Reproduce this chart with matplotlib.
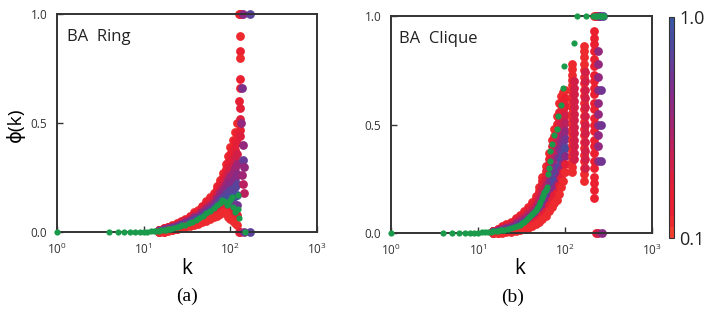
import numpy as np
import matplotlib
matplotlib.use("Agg")
import matplotlib.pyplot as plt
from matplotlib.colors import LinearSegmentedColormap, Normalize
from matplotlib.cm import ScalarMappable
from matplotlib.ticker import FixedLocator, NullLocator, LogFormatterSciNotation

# ---------------- panel (a): BA Ring ----------------
k_a = [15, 17, 19, 21, 24, 27, 30, 34, 38, 42, 47, 52, 58, 64, 70, 76, 82, 88, 94, 100, 106, 112, 118]
ring_hi = [0.01, 0.02, 0.025, 0.03, 0.04, 0.05, 0.06, 0.075, 0.09, 0.1, 0.12, 0.14, 0.16, 0.18, 0.21, 0.24, 0.27, 0.31, 0.35, 0.39, 0.42, 0.46, 0.5]
ring_90 = [0.009, 0.018, 0.023, 0.028, 0.037, 0.047, 0.056, 0.07, 0.084, 0.094, 0.113, 0.131, 0.15, 0.169, 0.197, 0.224, 0.252, 0.288, 0.322, 0.357, 0.383, 0.418, 0.453]
ring_80 = [0.008, 0.016, 0.021, 0.026, 0.034, 0.043, 0.052, 0.066, 0.079, 0.088, 0.105, 0.122, 0.14, 0.158, 0.183, 0.208, 0.234, 0.265, 0.294, 0.324, 0.346, 0.376, 0.406]
ring_70 = [0.007, 0.014, 0.019, 0.023, 0.032, 0.04, 0.049, 0.061, 0.073, 0.081, 0.098, 0.114, 0.13, 0.146, 0.17, 0.193, 0.216, 0.243, 0.266, 0.291, 0.309, 0.334, 0.359]
ring_60 = [0.006, 0.012, 0.017, 0.021, 0.029, 0.037, 0.045, 0.056, 0.067, 0.075, 0.09, 0.105, 0.12, 0.135, 0.156, 0.177, 0.198, 0.22, 0.238, 0.258, 0.272, 0.292, 0.312]
ring_50 = [0.005, 0.01, 0.015, 0.019, 0.026, 0.034, 0.041, 0.052, 0.062, 0.069, 0.083, 0.096, 0.11, 0.124, 0.143, 0.161, 0.18, 0.198, 0.21, 0.225, 0.235, 0.25, 0.265]
ring_40 = [0.004, 0.008, 0.013, 0.017, 0.023, 0.03, 0.037, 0.047, 0.056, 0.063, 0.075, 0.087, 0.1, 0.113, 0.129, 0.145, 0.162, 0.175, 0.182, 0.192, 0.198, 0.208, 0.218]
ring_30 = [0.003, 0.006, 0.011, 0.015, 0.02, 0.027, 0.033, 0.042, 0.05, 0.057, 0.068, 0.078, 0.09, 0.102, 0.116, 0.129, 0.144, 0.153, 0.154, 0.159, 0.161, 0.166, 0.171]
ring_20 = [0.002, 0.004, 0.009, 0.012, 0.018, 0.024, 0.03, 0.037, 0.044, 0.05, 0.06, 0.07, 0.08, 0.09, 0.102, 0.114, 0.126, 0.13, 0.126, 0.126, 0.124, 0.124, 0.124]
ring_10 = [0.001, 0.002, 0.007, 0.01, 0.015, 0.02, 0.026, 0.033, 0.039, 0.044, 0.053, 0.061, 0.07, 0.079, 0.089, 0.098, 0.108, 0.108, 0.098, 0.093, 0.087, 0.082, 0.077]
ring_lo = [0, 0, 0.005, 0.008, 0.012, 0.017, 0.022, 0.028, 0.033, 0.038, 0.045, 0.052, 0.06, 0.068, 0.075, 0.082, 0.09, 0.085, 0.07, 0.06, 0.05, 0.04, 0.03]
ring_bands = [ring_hi, ring_90, ring_80, ring_70, ring_60, ring_50, ring_40, ring_30, ring_20, ring_10, ring_lo]
ring_band_c = [0.15, 0.2, 0.3, 0.4, 0.55, 0.65, 0.85, 0.95, 0.75, 0.3, 0.15]

# spike near k ~ 130
spike_a_k = [125, 129, 132, 129, 129, 130, 128, 129, 127, 130, 128, 129, 131, 125, 129,
             140, 136, 134, 139, 141, 143, 138, 140, 145, 142, 168, 168]
spike_a_phi = [1.0, 1.0, 1.0, 0.9, 0.83, 0.8, 0.7, 0.66, 0.6, 0.57, 0.52, 0.47, 0.44, 0.0, 0.0,
               1.0, 0.66, 0.5, 0.4, 0.33, 0.3, 0.26, 0.22, 0.18, 0.0, 1.0, 0.0]
spike_a_c = [0.15, 0.2, 0.3, 0.15, 0.2, 0.15, 0.2, 0.25, 0.25, 0.3, 0.35, 0.25, 0.35, 0.15, 0.35,
             0.65, 0.7, 0.6, 0.6, 0.8, 0.6, 0.55, 0.5, 0.5, 0.7, 0.85, 0.85]

green_a_k = [1, 4, 5, 6, 7, 8, 9, 10, 11, 12, 13, 14, 15, 16, 17, 18, 19, 20, 22, 24, 26, 28, 30,
             33, 36, 40, 44, 48, 53, 58, 64, 70, 75, 80, 85, 91, 95, 99, 105, 108, 113, 122, 122, 125, 147]
green_a_phi = [0, 0, 0, 0, 0, 0, 0, 0.001, 0.002, 0.003, 0.004, 0.005, 0.006, 0.007, 0.008, 0.01, 0.012,
               0.014, 0.018, 0.022, 0.026, 0.03, 0.034, 0.04, 0.047, 0.055, 0.064, 0.073, 0.085, 0.097,
               0.11, 0.125, 0.135, 0.147, 0.14, 0.125, 0.135, 0.147, 0.16, 0.115, 0.09, 0.17, 0.105, 0.064, 0]

# ---------------- panel (b): BA Clique ----------------
k_b = [15, 17, 19, 21, 24, 27, 30, 34, 38, 42, 46, 50, 55, 60, 65, 70, 75, 80, 85, 90, 95, 100]
clq_hi = [0.01, 0.02, 0.03, 0.04, 0.05, 0.07, 0.085, 0.1, 0.12, 0.145, 0.17, 0.21, 0.26, 0.31, 0.37, 0.43, 0.48, 0.54, 0.6, 0.63, 0.65, 0.66]
clq_90 = [0.009, 0.018, 0.027, 0.036, 0.046, 0.064, 0.078, 0.092, 0.11, 0.134, 0.157, 0.194, 0.24, 0.287, 0.343, 0.399, 0.446, 0.501, 0.558, 0.588, 0.609, 0.622]
clq_80 = [0.008, 0.016, 0.024, 0.033, 0.041, 0.058, 0.071, 0.084, 0.101, 0.122, 0.144, 0.178, 0.221, 0.264, 0.316, 0.368, 0.412, 0.462, 0.516, 0.546, 0.568, 0.584]
clq_70 = [0.007, 0.014, 0.021, 0.029, 0.037, 0.052, 0.064, 0.076, 0.092, 0.111, 0.131, 0.162, 0.202, 0.241, 0.289, 0.337, 0.378, 0.423, 0.474, 0.504, 0.527, 0.546]
clq_60 = [0.006, 0.012, 0.018, 0.025, 0.032, 0.046, 0.057, 0.068, 0.082, 0.099, 0.118, 0.146, 0.182, 0.218, 0.262, 0.306, 0.344, 0.384, 0.432, 0.462, 0.486, 0.508]
clq_50 = [0.005, 0.01, 0.015, 0.022, 0.028, 0.04, 0.05, 0.06, 0.073, 0.088, 0.105, 0.13, 0.163, 0.195, 0.235, 0.275, 0.31, 0.345, 0.39, 0.42, 0.445, 0.47]
clq_40 = [0.004, 0.008, 0.012, 0.018, 0.024, 0.034, 0.043, 0.052, 0.063, 0.076, 0.092, 0.114, 0.143, 0.172, 0.208, 0.244, 0.276, 0.306, 0.348, 0.378, 0.404, 0.432]
clq_30 = [0.003, 0.006, 0.009, 0.014, 0.019, 0.028, 0.036, 0.044, 0.054, 0.065, 0.079, 0.098, 0.124, 0.149, 0.181, 0.213, 0.242, 0.267, 0.306, 0.336, 0.363, 0.394]
clq_20 = [0.002, 0.004, 0.006, 0.01, 0.015, 0.022, 0.029, 0.036, 0.044, 0.053, 0.066, 0.082, 0.104, 0.126, 0.154, 0.182, 0.208, 0.228, 0.264, 0.294, 0.322, 0.356]
clq_10 = [0.001, 0.002, 0.003, 0.007, 0.01, 0.016, 0.022, 0.028, 0.035, 0.042, 0.053, 0.066, 0.085, 0.103, 0.127, 0.151, 0.174, 0.189, 0.222, 0.252, 0.281, 0.318]
clq_lo = [0, 0, 0, 0.003, 0.006, 0.01, 0.015, 0.02, 0.025, 0.03, 0.04, 0.05, 0.065, 0.08, 0.1, 0.12, 0.14, 0.15, 0.18, 0.21, 0.24, 0.28]
clq_bands = [clq_hi, clq_90, clq_80, clq_70, clq_60, clq_50, clq_40, clq_30, clq_20, clq_10, clq_lo]
clq_band_c = [0.15, 0.2, 0.3, 0.4, 0.5, 0.6, 0.75, 0.9, 0.65, 0.3, 0.15]

# vertical columns at large k
col1_phi = [0.28, 0.305, 0.33, 0.355, 0.38, 0.405, 0.43, 0.455, 0.48, 0.505, 0.53, 0.555, 0.58,
            0.605, 0.63, 0.655, 0.68, 0.705, 0.73, 0.755, 0.78]
col1_mid = [0.34, 0.37, 0.4, 0.43, 0.46, 0.49, 0.52, 0.55, 0.58, 0.61, 0.64, 0.67, 0.7]
col2_phi = [0.24, 0.27, 0.3, 0.33, 0.36, 0.39, 0.42, 0.45, 0.48, 0.51, 0.54, 0.57, 0.6, 0.63,
            0.66, 0.69, 0.72, 0.75, 0.78, 0.81, 0.84, 0.86]
col2_mid = [0.3, 0.34, 0.38, 0.42, 0.46, 0.5, 0.54, 0.58, 0.62, 0.66, 0.7, 0.74]
col3_phi = [0.16, 0.2, 0.23, 0.26, 0.3, 0.33, 0.37, 0.4, 0.43, 0.47, 0.5, 0.53, 0.57, 0.6, 0.64,
            0.67, 0.7, 0.73, 0.77, 0.8, 0.84, 0.87, 0.9, 0.93]
col3_purple = [0.33, 0.4, 0.45, 0.5, 0.55, 0.6, 0.66, 0.72, 0.78, 0.84]
col3_blue = [0.33, 0.5, 0.66]

edge_b_k = [215, 225, 235, 245, 255, 270, 225, 240, 265]
edge_b_phi = [1.0, 1.0, 1.0, 1.0, 1.0, 1.0, 0.0, 0.0, 0.0]
edge_b_c = [0.15, 0.25, 0.4, 0.6, 0.7, 0.85, 0.2, 0.45, 0.65]

green_b_k = [1, 4, 5, 6, 7, 8, 9, 10, 11, 12, 13, 14, 15, 16, 17, 18, 19, 20, 22, 24, 26, 28, 30,
             32, 34, 36, 38, 40, 42, 44, 46, 48, 50, 52, 54, 56, 58, 60, 62, 64, 65, 67, 68, 71, 75,
             80, 83, 90, 95, 97, 127, 137, 175, 210, 220, 230, 240, 250, 260, 270, 280]
green_b_phi = [0, 0, 0, 0, 0, 0, 0, 0.002, 0.003, 0.004, 0.005, 0.006, 0.007, 0.008, 0.01, 0.012, 0.014,
               0.016, 0.018, 0.022, 0.027, 0.032, 0.038, 0.045, 0.052, 0.06, 0.068, 0.077, 0.086, 0.095,
               0.105, 0.115, 0.13, 0.145, 0.16, 0.175, 0.19, 0.2, 0.21, 0.27, 0.3, 0.33, 0.38, 0.41, 0.45,
               0.48, 0.54, 0.59, 0.67, 0.77, 0.875, 1, 1, 1, 1, 1, 1, 1, 1, 1, 1]

GREEN = "#1a9b4b"
cmap = LinearSegmentedColormap.from_list(
    "rb", [(0.0, "#f03e2c"), (0.08, "#ec1f2e"), (0.25, "#e01e3a"), (0.4, "#c0205a"),
           (0.55, "#9a2679"), (0.7, "#7a308e"), (0.85, "#58449b"), (1.0, "#3b55a3")], N=20)
norm = Normalize(0.1, 1.0)

plt.rcParams["font.family"] = ["Open Sans", "DejaVu Sans"]

fig = plt.figure(figsize=(7.07, 3.27), dpi=100)
W, H = 707.0, 327.0


def box(l, t, r, b):
    return [l / W, 1 - b / H, (r - l) / W, (b - t) / H]


def dots(ax, k, phi, c, s=40, z=2):
    ax.scatter(k, phi, color=cmap(norm(c)), s=s, linewidths=0, clip_on=False, zorder=z)


def style(ax):
    ax.set_xscale("log")
    ax.set_xlim(1, 1000)
    ax.set_ylim(0, 1)
    ax.xaxis.set_major_locator(FixedLocator([1, 10, 100, 1000]))
    ax.xaxis.set_major_formatter(LogFormatterSciNotation())
    ax.xaxis.set_minor_locator(NullLocator())
    ax.yaxis.set_major_locator(FixedLocator([0, 0.5, 1.0]))
    ax.set_yticklabels(["0.0", "0.5", "1.0"])
    ax.tick_params(direction="in", length=4, width=1, colors="#333333", labelsize=8.5, pad=7)
    for sp in ax.spines.values():
        sp.set_color("#333333")
        sp.set_linewidth(1.4)
    ax.set_facecolor("none")


ax1 = fig.add_axes(box(57, 14, 317, 232))
ax2 = fig.add_axes(box(391, 16, 652, 233))
for ax in (ax1, ax2):
    style(ax)

# panel (a)
for phi, c in zip(ring_bands, ring_band_c):
    dots(ax1, k_a, phi, c)
for kk, pp, cc in zip(spike_a_k, spike_a_phi, spike_a_c):
    dots(ax1, [kk], [pp], cc)
ax1.scatter(green_a_k, green_a_phi, color=GREEN, s=20, linewidths=0, clip_on=False, zorder=4)
ax1.text(0.04, 0.93, "BA  Ring", transform=ax1.transAxes, fontsize=12, va="top", color="#222222")

# panel (b)
for phi, c in zip(clq_bands, clq_band_c):
    dots(ax2, k_b, phi, c)
dots(ax2, [120] * len(col1_phi), col1_phi, 0.15)
dots(ax2, [127] * len(col1_mid), col1_mid, 0.4)
dots(ax2, [165] * len(col2_phi), col2_phi, 0.15)
dots(ax2, [172] * len(col2_mid), col2_mid, 0.4)
dots(ax2, [215] * len(col3_phi), col3_phi, 0.2)
dots(ax2, [242] * len(col3_purple), col3_purple, 0.6)
dots(ax2, [262] * len(col3_blue), col3_blue, 0.75)
for kk, pp, cc in zip(edge_b_k, edge_b_phi, edge_b_c):
    dots(ax2, [kk], [pp], cc)
ax2.scatter(green_b_k, green_b_phi, color=GREEN, s=20, linewidths=0, clip_on=False, zorder=4)
ax2.text(0.03, 0.93, "BA  Clique", transform=ax2.transAxes, fontsize=12, va="top", color="#222222")

# colorbar
cax = fig.add_axes(box(669, 17, 674, 238))
cb = fig.colorbar(ScalarMappable(norm=norm, cmap=cmap), cax=cax)
cb.set_ticks([0.1, 1.0])
cb.set_ticklabels(["0.1", "1.0"])
cb.ax.tick_params(length=0, labelsize=13, pad=4, colors="#222222")
cb.outline.set_edgecolor("#333333")
cb.outline.set_linewidth(0.8)

# labels
fig.text(15 / W, 1 - 125 / H, "ϕ(k)", rotation=90, ha="center", va="center", fontsize=14)
fig.text(187 / W, 1 - 268 / H, "k", ha="center", va="center", fontsize=15)
fig.text(520 / W, 1 - 268 / H, "k", ha="center", va="center", fontsize=15)
fig.text(187 / W, 1 - 296 / H, "(a)", ha="center", va="center", fontsize=14, family="Liberation Serif")
fig.text(513 / W, 1 - 297 / H, "(b)", ha="center", va="center", fontsize=14, family="Liberation Serif")

fig.savefig("out.png", dpi=100)
